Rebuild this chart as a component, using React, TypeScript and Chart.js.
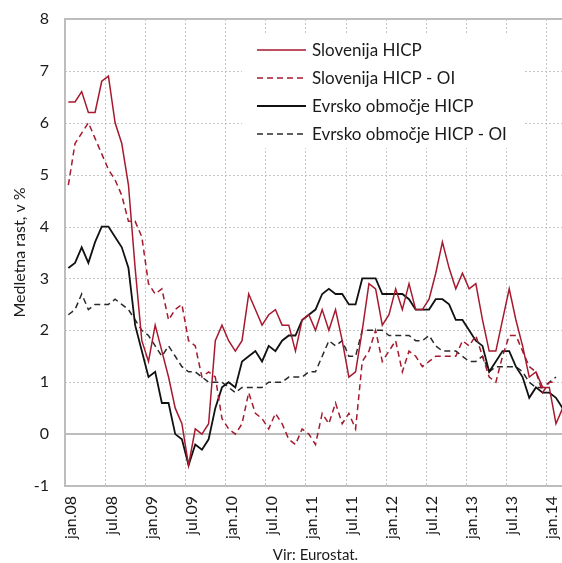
import React, { useEffect, useRef } from 'react';
import { Chart, registerables } from 'chart.js';

Chart.register(...registerables);

const months = ['jan', 'feb', 'mar', 'apr', 'maj', 'jun', 'jul', 'avg', 'sep', 'okt', 'nov', 'dec'];
const years = ['08', '09', '10', '11', '12', '13', '14'];
const labels = years.flatMap((y) => months.map((m) => `${m}.${y}`)).slice(0, 75);

const seriesNames = ['Slovenija HICP', 'Slovenija HICP - OI', 'Evrsko območje HICP', 'Evrsko območje HICP - OI'];

const sloHicp = [
  6.4, 6.4, 6.6, 6.2, 6.2, 6.8, 6.9, 6.0, 5.6, 4.8, 3.2, 1.8,
  1.4, 2.1, 1.6, 1.1, 0.5, 0.2, -0.6, 0.1, 0.0, 0.2, 1.8, 2.1,
  1.8, 1.6, 1.8, 2.7, 2.4, 2.1, 2.3, 2.4, 2.1, 2.1, 1.6, 2.2,
  2.3, 2.0, 2.4, 2.0, 2.4, 1.8, 1.1, 1.2, 2.0, 2.9, 2.8, 2.1,
  2.3, 2.8, 2.4, 2.9, 2.4, 2.4, 2.6, 3.1, 3.7, 3.2, 2.8, 3.1,
  2.8, 2.9, 2.2, 1.6, 1.6, 2.2, 2.8, 2.2, 1.7, 1.1, 1.2, 0.9,
  0.9, 0.2, 0.5,
];

const sloCore = [
  4.8, 5.6, 5.8, 6.0, 5.7, 5.4, 5.1, 4.9, 4.6, 4.1, 4.1, 3.8,
  2.9, 2.7, 2.8, 2.2, 2.4, 2.5, 1.8, 1.7, 1.1, 1.2, 1.1, 0.3,
  0.1, 0.0, 0.2, 0.8, 0.4, 0.3, 0.1, 0.4, 0.2, -0.1, -0.2, 0.1,
  0.0, -0.2, 0.4, 0.2, 0.6, 0.2, 0.4, 0.1, 1.4, 1.6, 2.0, 1.4,
  1.6, 1.8, 1.2, 1.6, 1.5, 1.3, 1.4, 1.5, 1.5, 1.5, 1.5, 1.8,
  1.7, 1.9, 1.5, 1.1, 1.0, 1.5, 1.9, 1.9, 1.6, 1.3, 1.2, 0.8,
  1.0, 1.0, null,
];

const euroHicp = [
  3.2, 3.3, 3.6, 3.3, 3.7, 4.0, 4.0, 3.8, 3.6, 3.2, 2.1, 1.6,
  1.1, 1.2, 0.6, 0.6, 0.0, -0.1, -0.6, -0.2, -0.3, -0.1, 0.5, 0.9,
  1.0, 0.9, 1.4, 1.5, 1.6, 1.4, 1.7, 1.6, 1.8, 1.9, 1.9, 2.2,
  2.3, 2.4, 2.7, 2.8, 2.7, 2.7, 2.5, 2.5, 3.0, 3.0, 3.0, 2.7,
  2.7, 2.7, 2.7, 2.6, 2.4, 2.4, 2.4, 2.6, 2.6, 2.5, 2.2, 2.2,
  2.0, 1.8, 1.7, 1.2, 1.4, 1.6, 1.6, 1.3, 1.1, 0.7, 0.9, 0.8,
  0.8, 0.7, 0.5,
];

const euroCore = [
  2.3, 2.4, 2.7, 2.4, 2.5, 2.5, 2.5, 2.6, 2.5, 2.4, 2.2, 2.0,
  1.9, 1.7, 1.5, 1.7, 1.5, 1.3, 1.2, 1.2, 1.1, 1.0, 1.0, 1.0,
  0.9, 0.8, 0.9, 0.9, 0.9, 0.9, 1.0, 1.0, 1.0, 1.1, 1.1, 1.1,
  1.2, 1.2, 1.5, 1.8, 1.7, 1.8, 1.5, 1.5, 2.0, 2.0, 2.0, 2.0,
  1.9, 1.9, 1.9, 1.9, 1.8, 1.8, 1.9, 1.7, 1.6, 1.6, 1.6, 1.5,
  1.4, 1.4, 1.5, 1.2, 1.3, 1.3, 1.3, 1.3, 1.2, 1.0, 0.9, 0.9,
  1.0, 1.1, null,
];

const yTitle = 'Medletna rast, v %';
const sourceText = 'Vir: Eurostat.';

const RED = '#a6192e';
const BLACK = '#111111';
const DARK = '#2a2a2a';
const FONT = 'Lato, "Open Sans", sans-serif';

const styles = [
  { color: RED, dash: [] as number[], width: 1.5 },
  { color: RED, dash: [6, 4], width: 1.5 },
  { color: BLACK, dash: [] as number[], width: 1.8 },
  { color: DARK, dash: [6, 4], width: 1.5 },
];

const decorPlugin = {
  id: 'decor',
  beforeDatasetsDraw(chart: any) {
    const { ctx, chartArea: a, scales } = chart;
    const x = scales.x;
    const y = scales.y;
    ctx.save();
    ctx.lineWidth = 1;
    ctx.strokeStyle = '#c4c4c4';
    ctx.setLineDash([2, 2]);
    y.ticks.forEach((t: any) => {
      if (t.value === 0 || t.value === y.min || t.value === y.max) return;
      const py = Math.round(y.getPixelForValue(t.value)) + 0.5;
      ctx.beginPath();
      ctx.moveTo(a.left, py);
      ctx.lineTo(a.right, py);
      ctx.stroke();
    });
    const half = (x.getPixelForValue(1) - x.getPixelForValue(0)) / 2;
    for (let i = 6; i < labels.length; i += 6) {
      const px = Math.round(x.getPixelForValue(i) - half) + 0.5;
      ctx.beginPath();
      ctx.moveTo(px, a.top);
      ctx.lineTo(px, a.bottom);
      ctx.stroke();
    }
    ctx.setLineDash([]);
    ctx.strokeStyle = '#bdbdbd';
    ctx.lineWidth = 2;
    const z = Math.round(y.getPixelForValue(0));
    ctx.beginPath();
    ctx.moveTo(a.left, z);
    ctx.lineTo(a.right, z);
    ctx.stroke();
    ctx.strokeRect(a.left, a.top, a.right - a.left, a.bottom - a.top);
    ctx.restore();
  },
  afterDraw(chart: any) {
    const { ctx, chartArea: a } = chart;
    ctx.save();
    const lx = a.left + 177;
    const ly = a.top + 14;
    ctx.fillStyle = '#ffffff';
    ctx.fillRect(lx, ly, 283, 115);
    ctx.font = `17px ${FONT}`;
    ctx.textBaseline = 'middle';
    ctx.textAlign = 'left';
    seriesNames.forEach((name, i) => {
      const yy = a.top + 31 + i * 28;
      const s = styles[i];
      ctx.strokeStyle = s.color;
      ctx.lineWidth = s.width;
      ctx.setLineDash(s.dash);
      ctx.beginPath();
      ctx.moveTo(a.left + 192, yy);
      ctx.lineTo(a.left + 241, yy);
      ctx.stroke();
      ctx.setLineDash([]);
      ctx.fillStyle = '#1a1a1a';
      ctx.fillText(name, a.left + 247, yy + 1);
    });
    ctx.save();
    ctx.translate(20, (a.top + a.bottom) / 2);
    ctx.rotate(-Math.PI / 2);
    ctx.textAlign = 'center';
    ctx.textBaseline = 'middle';
    ctx.font = `16px ${FONT}`;
    ctx.fillStyle = '#1a1a1a';
    ctx.fillText(yTitle, 0, 0);
    ctx.restore();
    ctx.textAlign = 'center';
    ctx.textBaseline = 'middle';
    ctx.font = `15px ${FONT}`;
    ctx.fillStyle = '#1a1a1a';
    ctx.fillText(sourceText, (a.left + a.right) / 2, 555);
    ctx.restore();
  },
};

export default function App() {
  const ref = useRef<HTMLCanvasElement | null>(null);
  useEffect(() => {
    if (!ref.current) return;
    const data = [sloHicp, sloCore, euroHicp, euroCore];
    const chart = new Chart(ref.current, {
      type: 'line',
      data: {
        labels,
        datasets: data.map((d, i) => ({
          label: seriesNames[i],
          data: d,
          borderColor: styles[i].color,
          borderWidth: styles[i].width,
          borderDash: styles[i].dash,
          pointRadius: 0,
          tension: 0,
          fill: false,
          spanGaps: false,
        })),
      },
      options: {
        animation: false,
        responsive: false,
        maintainAspectRatio: false,
        layout: { padding: { top: 19, right: 4, left: 0, bottom: 0 } },
        plugins: {
          legend: { display: false },
          tooltip: { enabled: false },
          title: { display: false },
        },
        scales: {
          x: {
            type: 'category',
            offset: true,
            grid: { display: false, drawTicks: false },
            border: { display: false },
            ticks: {
              autoSkip: false,
              maxRotation: 90,
              minRotation: 90,
              padding: 10,
              labelOffset: 3,
              color: '#1a1a1a',
              font: { family: FONT, size: 16 },
              callback: (_v: any, i: number) => (i % 6 === 0 ? labels[i] : ''),
            },
            afterFit: (s: any) => {
              s.height = 77;
              s.paddingLeft = 0;
              s.paddingRight = 0;
            },
          },
          y: {
            min: -1,
            max: 8,
            grid: { display: false, drawTicks: false },
            border: { display: false },
            ticks: {
              stepSize: 1,
              padding: 16,
              color: '#1a1a1a',
              font: { family: FONT, size: 16 },
            },
            afterFit: (s: any) => {
              s.width = 65;
              s.paddingTop = 0;
              s.paddingBottom = 0;
            },
          },
        },
      },
      plugins: [decorPlugin],
    });
    return () => chart.destroy();
  }, []);
  return (
    <div style={{ position: 'absolute', left: 0, top: 0, width: 562, height: 563, overflow: 'hidden', background: '#fff' }}>
      <canvas ref={ref} width={570} height={563} style={{ width: 570, height: 563, display: 'block' }} />
    </div>
  );
}
